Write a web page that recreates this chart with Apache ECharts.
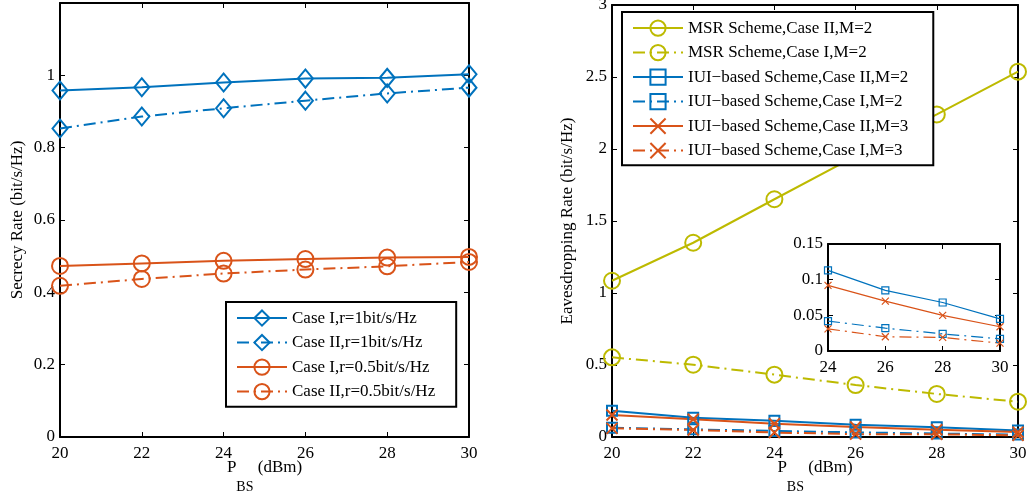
<!DOCTYPE html>
<html>
<head>
<meta charset="utf-8">
<script src="https://cdn.jsdelivr.net/npm/echarts@6/dist/echarts.min.js"></script>
<style>
html,body{margin:0;padding:0;background:#fff;}
#c{width:1028px;height:491px;}
</style>
</head>
<body>
<div id="c"></div>
<script>
// ---- data ----
var pbs = [20, 22, 24, 26, 28, 30];
var insetPbs = [24, 26, 28, 30];

// left: secrecy rate
var secCaseI_r1   = [0.958, 0.967, 0.980, 0.991, 0.993, 1.003];
var secCaseII_r1  = [0.853, 0.886, 0.909, 0.930, 0.950, 0.966];
var secCaseI_r05  = [0.473, 0.480, 0.487, 0.492, 0.496, 0.498];
var secCaseII_r05 = [0.418, 0.437, 0.452, 0.463, 0.472, 0.484];

// right: eavesdropping rate
var msrCaseII_M2 = [1.085, 1.349, 1.651, 1.950, 2.240, 2.537];
var msrCaseI_M2  = [0.553, 0.502, 0.433, 0.361, 0.299, 0.245];
var iuiCaseII_M2 = [0.183, 0.134, 0.113, 0.085, 0.068, 0.045];
var iuiCaseI_M2  = [0.065, 0.053, 0.042, 0.032, 0.024, 0.017];
var iuiCaseII_M3 = [0.153, 0.123, 0.092, 0.070, 0.050, 0.034];
var iuiCaseI_M3  = [0.060, 0.049, 0.031, 0.020, 0.019, 0.011];

var leftNames = ['Case I,r=1bit/s/Hz', 'Case II,r=1bit/s/Hz', 'Case I,r=0.5bit/s/Hz', 'Case II,r=0.5bit/s/Hz'];
var rightNames = ['MSR Scheme,Case II,M=2', 'MSR Scheme,Case I,M=2', 'IUI\u2212based Scheme,Case II,M=2',
  'IUI\u2212based Scheme,Case I,M=2', 'IUI\u2212based Scheme,Case II,M=3', 'IUI\u2212based Scheme,Case I,M=3'];

// ---- styles ----
var FONT = 'Liberation Serif';
var BLUE = '#0072BD', ORANGE = '#D95319', OLIVE = '#BDBA00';
var DASHDOT = [12, 5, 2, 5];
var XPATH = 'path://M0,0L10,10M0,10L10,0';

function pairs(xs, ys) { return xs.map(function (x, i) { return [x, ys[i]]; }); }
function tail(ys) { return ys.slice(2); }

function mkSeries(name, xs, ys, color, dash, symbol, size, xi, yi, lw) {
  return {
    name: name, type: 'line', xAxisIndex: xi, yAxisIndex: yi,
    data: pairs(xs, ys), symbol: symbol, symbolSize: size, showSymbol: true,
    lineStyle: { color: color, width: lw, type: dash ? DASHDOT : 'solid' },
    itemStyle: { color: 'rgba(255,255,255,0)', borderColor: color, borderWidth: lw },
    emphasis: { disabled: true }, animation: false, z: 3
  };
}

function axisPair(gridIndex, isX, min, max, interval, showLabels, fmt, extra) {
  var base = {
    gridIndex: gridIndex, type: 'value', min: min, max: max, interval: interval,
    axisLine: { show: true, onZero: false, lineStyle: { color: '#000', width: 2 } },
    axisTick: { show: true, inside: true, length: 5, lineStyle: { color: '#000', width: 1 } },
    splitLine: { show: false },
    axisLabel: { show: showLabels, color: '#000', fontFamily: FONT, fontSize: 17, margin: isX ? 8 : 5, formatter: fmt },
  };
  var mirror = JSON.parse(JSON.stringify(base));
  mirror.axisLabel = { show: false };
  base.position = isX ? 'bottom' : 'left';
  mirror.position = isX ? 'top' : 'right';
  if (extra) Object.keys(extra).forEach(function (k) { base[k] = extra[k]; });
  return [base, mirror];
}

var xName = {
  name: '{p|P}{s|BS}{p| (dBm)}', nameLocation: 'middle', nameGap: 22, nameMoveOverlap: false,
  nameTextStyle: {
    rich: {
      p: { fontFamily: FONT, fontSize: 17, color: '#000', verticalAlign: 'top', lineHeight: 35 },
      s: { fontFamily: FONT, fontSize: 14, color: '#000', verticalAlign: 'bottom', lineHeight: 35 }
    }
  }
};

var xAxes = [].concat(
  axisPair(0, true, 20, 30, 2, true, null, xName),
  axisPair(1, true, 20, 30, 2, true, null, xName),
  axisPair(2, true, 24, 30, 2, true, null, null)
);
var yAxes = [].concat(
  axisPair(0, false, 0, 1.2, 0.2, true, function (v) { return v > 1.1 ? '' : String(+v.toFixed(2)); }, {
    name: 'Secrecy Rate (bit/s/Hz)', nameLocation: 'middle', nameGap: 34,
    nameTextStyle: { fontFamily: FONT, fontSize: 17, color: '#000' }
  }),
  axisPair(1, false, 0, 3, 0.5, true, null, {
    name: 'Eavesdropping Rate (bit/s/Hz)', nameLocation: 'middle', nameGap: 36,
    nameTextStyle: { fontFamily: FONT, fontSize: 17, color: '#000' }
  }),
  axisPair(2, false, 0, 0.15, 0.05, true, null, null)
);

var series = [
  mkSeries(leftNames[0], pbs, secCaseI_r1, BLUE, false, 'diamond', [15, 18], 0, 0, 2),
  mkSeries(leftNames[1], pbs, secCaseII_r1, BLUE, true, 'diamond', [15, 18], 0, 0, 2),
  mkSeries(leftNames[2], pbs, secCaseI_r05, ORANGE, false, 'circle', 16, 0, 0, 2),
  mkSeries(leftNames[3], pbs, secCaseII_r05, ORANGE, true, 'circle', 16, 0, 0, 2),

  mkSeries(rightNames[0], pbs, msrCaseII_M2, OLIVE, false, 'circle', 16, 2, 2, 2),
  mkSeries(rightNames[1], pbs, msrCaseI_M2, OLIVE, true, 'circle', 16, 2, 2, 2),
  mkSeries(rightNames[2], pbs, iuiCaseII_M2, BLUE, false, 'rect', 10, 2, 2, 2),
  mkSeries(rightNames[3], pbs, iuiCaseI_M2, BLUE, true, 'rect', 10, 2, 2, 2),
  mkSeries(rightNames[4], pbs, iuiCaseII_M3, ORANGE, false, XPATH, 11, 2, 2, 2),
  mkSeries(rightNames[5], pbs, iuiCaseI_M3, ORANGE, true, XPATH, 11, 2, 2, 2),

  // inset
  mkSeries('inset1', insetPbs, tail(iuiCaseII_M2), BLUE, false, 'rect', 7, 4, 4, 1.2),
  mkSeries('inset2', insetPbs, tail(iuiCaseI_M2), BLUE, true, 'rect', 7, 4, 4, 1.2),
  mkSeries('inset3', insetPbs, tail(iuiCaseII_M3), ORANGE, false, XPATH, 7, 4, 4, 1.2),
  mkSeries('inset4', insetPbs, tail(iuiCaseI_M3), ORANGE, true, XPATH, 7, 4, 4, 1.2)
];

var legendCommon = {
  orient: 'vertical', selectedMode: false, itemWidth: 50, itemHeight: 19, itemGap: 7.3,
  backgroundColor: '#fff', borderColor: '#000', borderWidth: 2, borderRadius: 0,
  textStyle: { fontFamily: FONT, fontSize: 17, color: '#000' }, z: 10
};

var option = {
  backgroundColor: '#fff',
  animation: false,
  grid: [
    { left: 60, top: 3, width: 409, height: 434, outerBoundsMode: 'none', containLabel: false },
    { left: 612, top: 5, width: 406, height: 432, outerBoundsMode: 'none', containLabel: false },
    { left: 828, top: 244, width: 172, height: 107, outerBoundsMode: 'none', containLabel: false,
      show: true, backgroundColor: '#fff', borderWidth: 0, z: 4 }
  ],
  xAxis: xAxes.map(function (a, i) { a.gridIndex = [0, 0, 1, 1, 2, 2][i]; return a; }),
  yAxis: yAxes.map(function (a, i) { a.gridIndex = [0, 0, 1, 1, 2, 2][i]; return a; }),
  legend: [
    Object.assign({}, legendCommon, { data: leftNames, left: 226, top: 302, padding: [7.5, 21, 6.5, 10] }),
    Object.assign({}, legendCommon, { data: rightNames, left: 622, top: 12, padding: [7.5, 25, 6, 10] })
  ],
  series: series
};
option.xAxis.forEach(function (a, i) { if (i >= 4) a.z = 5; });
option.yAxis.forEach(function (a, i) { if (i >= 4) a.z = 5; });
series.slice(10).forEach(function (s) { s.z = 6; });

var chart = echarts.init(document.getElementById('c'), null, { renderer: 'canvas' });
chart.setOption(option);
</script>
</body>
</html>
